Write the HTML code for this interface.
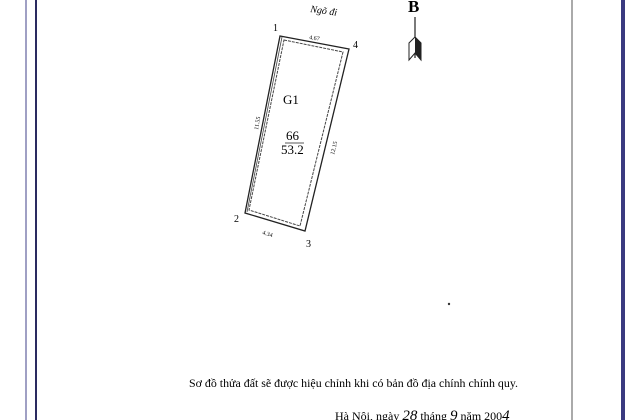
<html><head><style>body{margin:0;width:625px;height:420px;background:#fff;overflow:hidden;position:relative;font-family:"Liberation Serif",serif}</style></head><body>
<svg width="625" height="420" style="position:absolute;left:0;top:0" font-family="Liberation Serif, serif">
<line x1="26" y1="0" x2="26" y2="420" stroke="#8080b0" stroke-width="1.5"/>
<line x1="36" y1="0" x2="36" y2="420" stroke="#2a2a60" stroke-width="2"/>
<line x1="572" y1="0" x2="572" y2="420" stroke="#555" stroke-width="1"/>
<rect x="621" y="0" width="4" height="420" fill="#3a3a80"/>
<polygon points="280,36 349,49 305,231 245,213" fill="none" stroke="#222" stroke-width="1.3"/>
<polygon points="284,40 343,52 300,226 249,210" fill="none" stroke="#444" stroke-width="1" stroke-dasharray="3,1"/>
<line x1="282" y1="37" x2="247" y2="212" stroke="#444" stroke-width="0.8"/>
<text x="273" y="31" font-size="10">1</text>
<text x="353" y="48" font-size="10">4</text>
<text x="234" y="222" font-size="10">2</text>
<text x="306" y="247" font-size="10">3</text>
<text x="309" y="39" font-size="6" transform="rotate(10 309 39)">4.67</text>
<text x="262" y="234" font-size="6" transform="rotate(17 262 234)">4.34</text>
<text x="258" y="130" font-size="6" transform="rotate(-80 258 130)">11.55</text>
<text x="334" y="155" font-size="6" transform="rotate(-76 334 155)">12.15</text>
<text x="283" y="104" font-size="13">G1</text>
<text x="286" y="140" font-size="13">66</text>
<line x1="285" y1="143" x2="304" y2="143" stroke="#222" stroke-width="0.8"/>
<text x="281" y="154" font-size="13">53.2</text>
<text x="310" y="12" font-size="10" font-style="italic" transform="rotate(8 310 12)">Ngõ đi</text>
<text x="408" y="12" font-size="17" font-weight="bold">B</text>
<line x1="415" y1="17" x2="415" y2="58" stroke="#222" stroke-width="1.2"/>
<polygon points="409,43 415,37 421,43 421,60 415,53 409,60" fill="#fff" stroke="#222"/>
<polygon points="415,37 421,43 421,60 415,53" fill="#222"/>
<circle cx="449" cy="304" r="1.2" fill="#333"/>
<text x="189" y="387" font-size="12" textLength="329" lengthAdjust="spacingAndGlyphs">Sơ đồ thửa đất sẽ được hiệu chỉnh khi có bản đồ địa chính chính quy.</text>
<text x="335" y="420" font-size="12">Hà Nội, ngày <tspan font-style="italic" font-size="15">28</tspan> tháng <tspan font-style="italic" font-size="15">9</tspan>   năm 200<tspan font-style="italic" font-size="15">4</tspan></text>
</svg></body></html>
